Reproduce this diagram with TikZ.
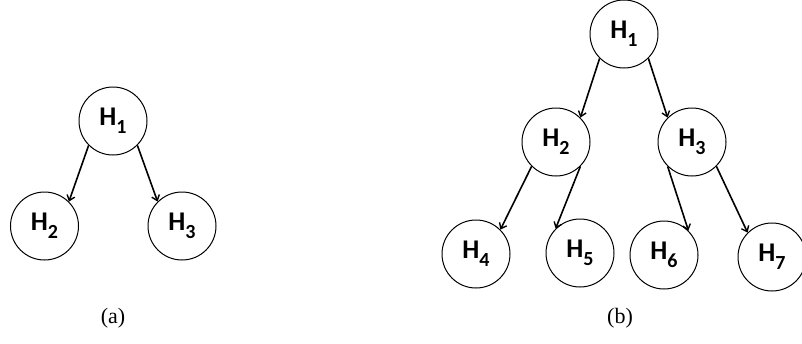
\documentclass[tikz,border=0pt]{standalone}
\usepackage{fontspec}
\setmainfont{Carlito}
\newfontfamily\capfont{Liberation Serif}
\usetikzlibrary{arrows.meta}
\newcommand{\hnode}[1]{\bfseries H\raisebox{-0.3em}{\fontsize{20}{20}\selectfont #1}}
\begin{document}
\begin{tikzpicture}[x=1pt,y=-1pt,
		hid/.style={draw,circle,line width=1pt,minimum size=68pt,inner sep=0pt,font=\fontsize{27}{27}\selectfont},
		link/.style={line width=1.6pt,-{Straight Barb[length=5pt,width=8pt,line width=1.4pt]}},
		sublabel/.style={font=\capfont\fontsize{22}{22}\selectfont}]
			\useasboundingbox (0,0) rectangle (802,343);
			\node[hid] (a1) at (113,121) {\hnode{1}};
			\node[hid] (a2) at (44.5,226) {\hnode{2}};
			\node[hid] (a3) at (182,226) {\hnode{3}};
			\draw[link] (a1.-135) -- (a2.45);
			\draw[link] (a1.-45) -- (a3.135);
			\node[sublabel] (la) at (113,318) {(a)};
			\node[hid] (b1) at (624,34) {\hnode{1}};
			\node[hid] (b2) at (556,142) {\hnode{2}};
			\node[hid] (b3) at (692,142) {\hnode{3}};
			\node[hid] (b4) at (476,254) {\hnode{4}};
			\node[hid] (b5) at (580,253) {\hnode{5}};
			\node[hid] (b6) at (664,255) {\hnode{6}};
			\node[hid] (b7) at (772,257) {\hnode{7}};
			\draw[link] (b1.-135) -- (b2.45);
			\draw[link] (b1.-45) -- (b3.135);
			\draw[link] (b2.-135) -- (b4.45);
			\draw[link] (b2.-45) -- (b5.135);
			\draw[link] (b3.-135) -- (b6.45);
			\draw[link] (b3.-45) -- (b7.135);
			\node[sublabel] (lb) at (620,318) {(b)};
		\end{tikzpicture}
\end{document}
